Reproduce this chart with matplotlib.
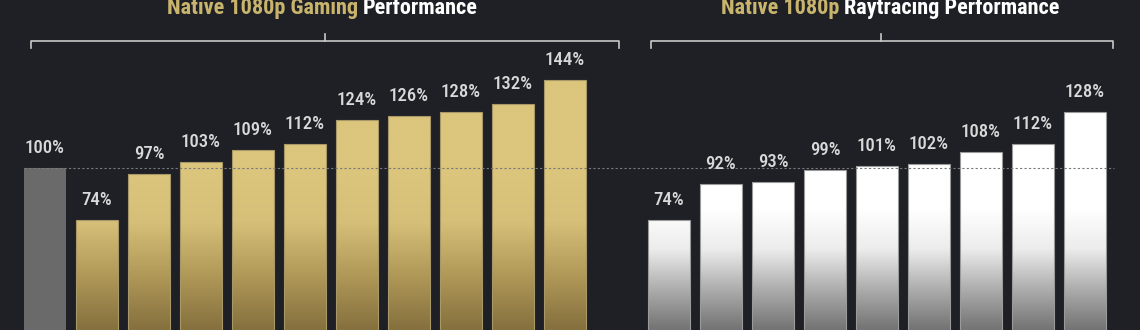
import numpy as np
import matplotlib
matplotlib.use("Agg")
import matplotlib.pyplot as plt
from matplotlib.colors import LinearSegmentedColormap
from matplotlib import font_manager

# condensed looking font, whichever is there
names = {f.name for f in font_manager.fontManager.ttflist}
fam = [n for n in ['Roboto Condensed', 'Liberation Sans Narrow', 'Roboto'] if n in names]
plt.rcParams['font.family'] = fam + ['DejaVu Sans']

# data
gaming = [100, 74, 97, 103, 109, 112, 124, 126, 128, 132, 144]
raytracing = [74, 92, 93, 99, 101, 102, 108, 112, 128]
baseline = 100

bg = '#1e2026'
gold = '#c9b46c'
label_col = '#d9d9d9'

# pixel helpers (figure is 1140x330 at dpi 100, axes fills it)
def px_x(p):
    return (p - 45) / 52.0

def px_y(p):
    return 184 - p / 2.0

fig = plt.figure(figsize=(11.4, 3.3), dpi=100, facecolor=bg)
ax = fig.add_axes([0, 0, 1, 1])
ax.set_facecolor(bg)
ax.set_xlim(px_x(0), px_x(1140))
ax.set_ylim(px_y(330), px_y(0))
ax.axis('off')

ymin, ymax = px_y(330), px_y(0)
gold_cmap = LinearSegmentedColormap.from_list('g', ['#85703e', '#b09858', '#d6bf78', '#dcc57c'])
white_cmap = LinearSegmentedColormap.from_list('w', ['#737373', '#adadad', '#ececec', '#ffffff', '#ffffff'])

def grad_bar(x, val, cmap, edge, w=0.8):
    ys = np.linspace(ymin, val, 200)
    t = np.clip((ys - ymin) / (100 - ymin), 0, 1)
    img = t[:, None]
    ax.imshow(img, cmap=cmap, vmin=0, vmax=1, origin='lower', aspect='auto',
              extent=[x - w / 2, x + w / 2, ymin, val], zorder=2, interpolation='bilinear')
    ax.bar(x, val - ymin, bottom=ymin, width=w, fill=False, edgecolor=edge, lw=0.8, zorder=2.5)

x_gaming = np.arange(len(gaming))
x_ray = np.arange(len(raytracing)) + 12

lkw = dict(textcoords='offset points', ha='center', va='bottom', color=label_col,
           fontsize=13.5, fontweight='medium', zorder=4)

for i, (x, v) in enumerate(zip(x_gaming, gaming)):
    if i == 0:
        ax.bar(x, v - ymin, bottom=ymin, width=0.8, color='#6a6a6a', zorder=2)
    else:
        grad_bar(x, v, gold_cmap, '#a89868')
    ax.annotate(f'{v}%', (x, v), xytext=(0, 8), **lkw)

for x, v in zip(x_ray, raytracing):
    grad_bar(x, v, white_cmap, '#9a9a9a')
    ax.annotate(f'{v}%', (x, v), xytext=(0, 8), **lkw)

# dashed baseline
ax.plot([px_x(24), px_x(1114)], [baseline, baseline], color='#7a7a7a', lw=0.8,
        ls=(0, (2, 2)), zorder=3)

# brackets
def bracket(x0, x1, xc):
    yb, ye, yt = px_y(41), px_y(48), px_y(34)
    ax.plot([px_x(x0), px_x(x0), px_x(x1), px_x(x1)], [ye, yb, yb, ye],
            color='#c8c8c8', lw=1.2, zorder=3)
    ax.plot([px_x(xc), px_x(xc)], [yb, yt], color='#c8c8c8', lw=1.2, zorder=3)

bracket(31, 619, 325)
bracket(651, 1113, 881)

# titles, sitting near the top edge like the reference
ty = px_y(14)
tkw = dict(fontsize=16, fontweight='bold', va='baseline')
ax.text(px_x(358), ty, 'Native 1080p Gaming', color=gold, ha='right', **tkw)
ax.text(px_x(363), ty, 'Performance', color='white', ha='left', **tkw)
ax.text(px_x(839), ty, 'Native 1080p', color=gold, ha='right', **tkw)
ax.text(px_x(844), ty, 'Raytracing Performance', color='white', ha='left', **tkw)

fig.savefig('out.png', dpi=100, facecolor=bg)
